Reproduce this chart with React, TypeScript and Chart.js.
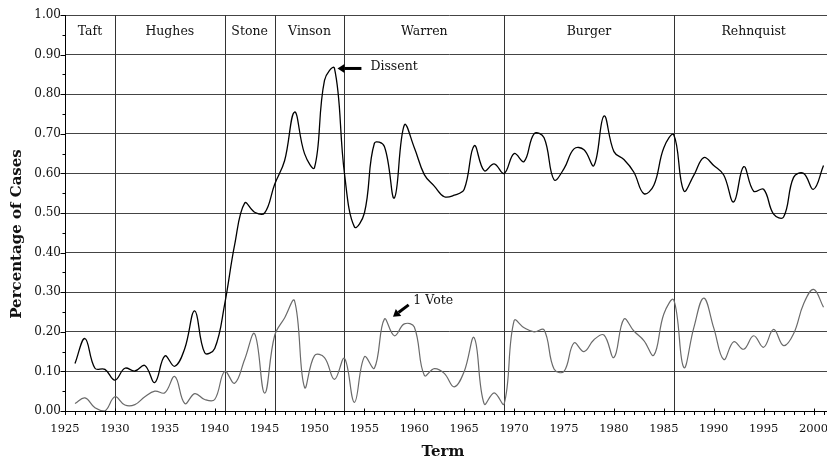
import React, { useEffect, useRef } from "react";
import { Chart, registerables } from "chart.js";

Chart.register(...registerables);

const years = [
  1926, 1927, 1928, 1929, 1930, 1931, 1932, 1933, 1934, 1935,
  1936, 1937, 1938, 1939, 1940, 1941, 1942, 1943, 1944, 1945,
  1946, 1947, 1948, 1949, 1950, 1951, 1952, 1953, 1954, 1955,
  1956, 1957, 1958, 1959, 1960, 1961, 1962, 1963, 1964, 1965,
  1966, 1967, 1968, 1969, 1970, 1971, 1972, 1973, 1974, 1975,
  1976, 1977, 1978, 1979, 1980, 1981, 1982, 1983, 1984, 1985,
  1986, 1987, 1988, 1989, 1990, 1991, 1992, 1993, 1994, 1995,
  1996, 1997, 1998, 1999, 2000, 2001,
];

const dissent = [
  0.12, 0.183, 0.108, 0.105, 0.078, 0.108, 0.101, 0.115, 0.072, 0.139,
  0.113, 0.158, 0.253, 0.147, 0.158, 0.27, 0.42, 0.525, 0.502, 0.5,
  0.572, 0.632, 0.755, 0.65, 0.615, 0.835, 0.865, 0.6, 0.465, 0.5,
  0.676, 0.668, 0.538, 0.722, 0.665, 0.597, 0.568, 0.541, 0.545, 0.56,
  0.67, 0.607, 0.624, 0.6, 0.65, 0.63, 0.7, 0.69, 0.584, 0.612,
  0.662, 0.66, 0.62, 0.745, 0.655, 0.635, 0.603, 0.549, 0.57, 0.665,
  0.697, 0.556, 0.595, 0.64, 0.62, 0.596, 0.528, 0.617, 0.555, 0.56,
  0.497, 0.49, 0.59, 0.6, 0.56, 0.62,
];

const oneVote = [
  0.019, 0.033, 0.008, 0.0, 0.036, 0.015, 0.016, 0.036, 0.05, 0.046,
  0.087, 0.019, 0.044, 0.029, 0.029, 0.1, 0.07, 0.13, 0.195, 0.045,
  0.19, 0.235, 0.278, 0.06, 0.14, 0.135, 0.08, 0.133, 0.022, 0.137,
  0.108, 0.232, 0.19, 0.22, 0.212, 0.09, 0.107, 0.095, 0.061, 0.1,
  0.185, 0.018, 0.046, 0.018, 0.228, 0.21, 0.2, 0.205, 0.106, 0.1,
  0.172, 0.15, 0.18, 0.192, 0.135, 0.232, 0.202, 0.178, 0.141, 0.245,
  0.28, 0.11, 0.21, 0.285, 0.21, 0.13, 0.175, 0.156, 0.19, 0.161,
  0.206, 0.165, 0.195, 0.27, 0.307, 0.262,
];

const xTickLabels = [1925, 1930, 1935, 1940, 1945, 1950, 1955, 1960, 1965, 1970, 1975, 1980, 1985, 1990, 1995, 2000];
const courtNames = ["Taft", "Hughes", "Stone", "Vinson", "Warren", "Burger", "Rehnquist"];
const courtBounds = [1925, 1930, 1941, 1946, 1953, 1969, 1986, 2002];

const FONT = "'DejaVu Serif', serif";

const decor = {
  id: "decor",
  beforeDatasetsDraw(chart: any) {
    const { ctx, chartArea, scales } = chart;
    const x = scales.x;
    ctx.save();
    ctx.strokeStyle = "#333";
    ctx.lineWidth = 1;
    for (let i = 1; i < courtBounds.length - 1; i++) {
      const px = Math.round(x.getPixelForValue(courtBounds[i])) + 0.5;
      ctx.beginPath();
      ctx.moveTo(px, chartArea.top);
      ctx.lineTo(px, chartArea.bottom);
      ctx.stroke();
    }
    ctx.restore();
  },
  afterDraw(chart: any) {
    const { ctx, chartArea, scales } = chart;
    const x = scales.x;
    const y = scales.y;
    ctx.save();
    // y ticks
    ctx.strokeStyle = "#000";
    ctx.lineWidth = 1;
    const left = Math.round(chartArea.left) + 0.5;
    for (let v = 0; v <= 20; v++) {
      const py = Math.round(y.getPixelForValue(v * 0.05)) + 0.5;
      const len = v % 2 === 0 ? 5 : 3;
      ctx.beginPath();
      ctx.moveTo(left - len, py);
      ctx.lineTo(left, py);
      ctx.stroke();
    }
    // x ticks
    const bottom = Math.round(chartArea.bottom) + 0.5;
    for (let yr = 1925; yr <= 2002; yr++) {
      const px = Math.round(x.getPixelForValue(yr)) + 0.5;
      const major = yr % 5 === 0;
      ctx.beginPath();
      ctx.moveTo(px, major ? bottom - 3 : bottom);
      ctx.lineTo(px, bottom + 3.5);
      ctx.stroke();
    }
    // court labels
    ctx.fillStyle = "#111";
    ctx.font = `12.5px ${FONT}`;
    ctx.textAlign = "center";
    ctx.textBaseline = "middle";
    const ly = y.getPixelForValue(0.957);
    for (let i = 0; i < courtNames.length; i++) {
      const cx = (x.getPixelForValue(courtBounds[i]) + x.getPixelForValue(courtBounds[i + 1])) / 2;
      ctx.fillText(courtNames[i], cx, ly);
    }
    // annotations
    const arrow = (x1: number, y1: number, x2: number, y2: number) => {
      const tx = x.getPixelForValue(x2);
      const ty = y.getPixelForValue(y2);
      const sx = x.getPixelForValue(x1);
      const sy = y.getPixelForValue(y1);
      const ang = Math.atan2(ty - sy, tx - sx);
      const head = 7;
      const hw = 4.5;
      const bx = tx - head * Math.cos(ang);
      const by = ty - head * Math.sin(ang);
      ctx.strokeStyle = "#000";
      ctx.lineWidth = 3;
      ctx.beginPath();
      ctx.moveTo(sx, sy);
      ctx.lineTo(bx, by);
      ctx.stroke();
      ctx.fillStyle = "#000";
      ctx.beginPath();
      ctx.moveTo(tx, ty);
      ctx.lineTo(bx + hw * Math.sin(ang), by - hw * Math.cos(ang));
      ctx.lineTo(bx - hw * Math.sin(ang), by + hw * Math.cos(ang));
      ctx.closePath();
      ctx.fill();
    };
    arrow(1954.7, 0.865, 1952.3, 0.865);
    arrow(1959.43, 0.268, 1957.86, 0.238);
    ctx.fillStyle = "#111";
    ctx.font = `12.5px ${FONT}`;
    ctx.textAlign = "left";
    ctx.textBaseline = "middle";
    ctx.fillText("Dissent", x.getPixelForValue(1955.6), y.getPixelForValue(0.869));
    ctx.fillText("1 Vote", x.getPixelForValue(1959.9), y.getPixelForValue(0.279));
    // axis titles
    ctx.font = `bold 15px ${FONT}`;
    ctx.textAlign = "center";
    ctx.fillText("Term", 443, 452);
    ctx.translate(17, 234);
    ctx.rotate(-Math.PI / 2);
    ctx.fillText("Percentage of Cases", 0, 0);
    ctx.restore();
  },
};

export default function App() {
  const ref = useRef<HTMLCanvasElement | null>(null);
  useEffect(() => {
    if (!ref.current) return;
    const chart = new Chart(ref.current, {
      type: "line",
      data: {
        datasets: [
          {
            label: "Dissent",
            data: years.map((yr, i) => ({ x: yr, y: dissent[i] })),
            borderColor: "#000",
            borderWidth: 1.3,
            pointRadius: 0,
            tension: 0.4,
            fill: false,
          },
          {
            label: "1 Vote",
            data: years.map((yr, i) => ({ x: yr, y: oneVote[i] })),
            borderColor: "#6a6a6a",
            borderWidth: 1.2,
            pointRadius: 0,
            tension: 0.4,
            fill: false,
          },
        ],
      },
      options: {
        responsive: false,
        animation: false,
        layout: { padding: { top: 15, right: 11.5, left: 0, bottom: 0 } },
        plugins: { legend: { display: false }, tooltip: { enabled: false } },
        scales: {
          x: {
            type: "linear",
            min: 1925,
            max: 2002,
            afterBuildTicks: (scale: any) => {
              scale.ticks = xTickLabels.map((v) => ({ value: v }));
            },
            afterFit: (scale: any) => {
              scale.height = 48;
            },
            grid: { display: false, drawTicks: false },
            border: { display: true, color: "#000", width: 1 },
            ticks: {
              padding: 11,
              maxRotation: 0,
              autoSkip: false,
              color: "#111",
              font: { family: FONT, size: 11.5 },
              callback: (v: any) => String(v),
            },
          },
          y: {
            min: 0,
            max: 1,
            afterFit: (scale: any) => {
              scale.width = 65;
            },
            grid: { color: "#444", lineWidth: 1, drawTicks: false },
            border: { display: true, color: "#000", width: 1 },
            ticks: {
              stepSize: 0.1,
              padding: 4,
              color: "#111",
              font: { family: FONT, size: 12 },
              callback: (v: any) => Number(v).toFixed(2),
            },
          },
        },
      },
      plugins: [decor],
    });
    return () => chart.destroy();
  }, []);
  return (
    <div style={{ position: "fixed", left: 0, top: 0, width: 827, height: 459, overflow: "hidden", background: "#fff" }}>
      <canvas ref={ref} width={845} height={459} style={{ width: 845, height: 459, display: "block" }} />
    </div>
  );
}
